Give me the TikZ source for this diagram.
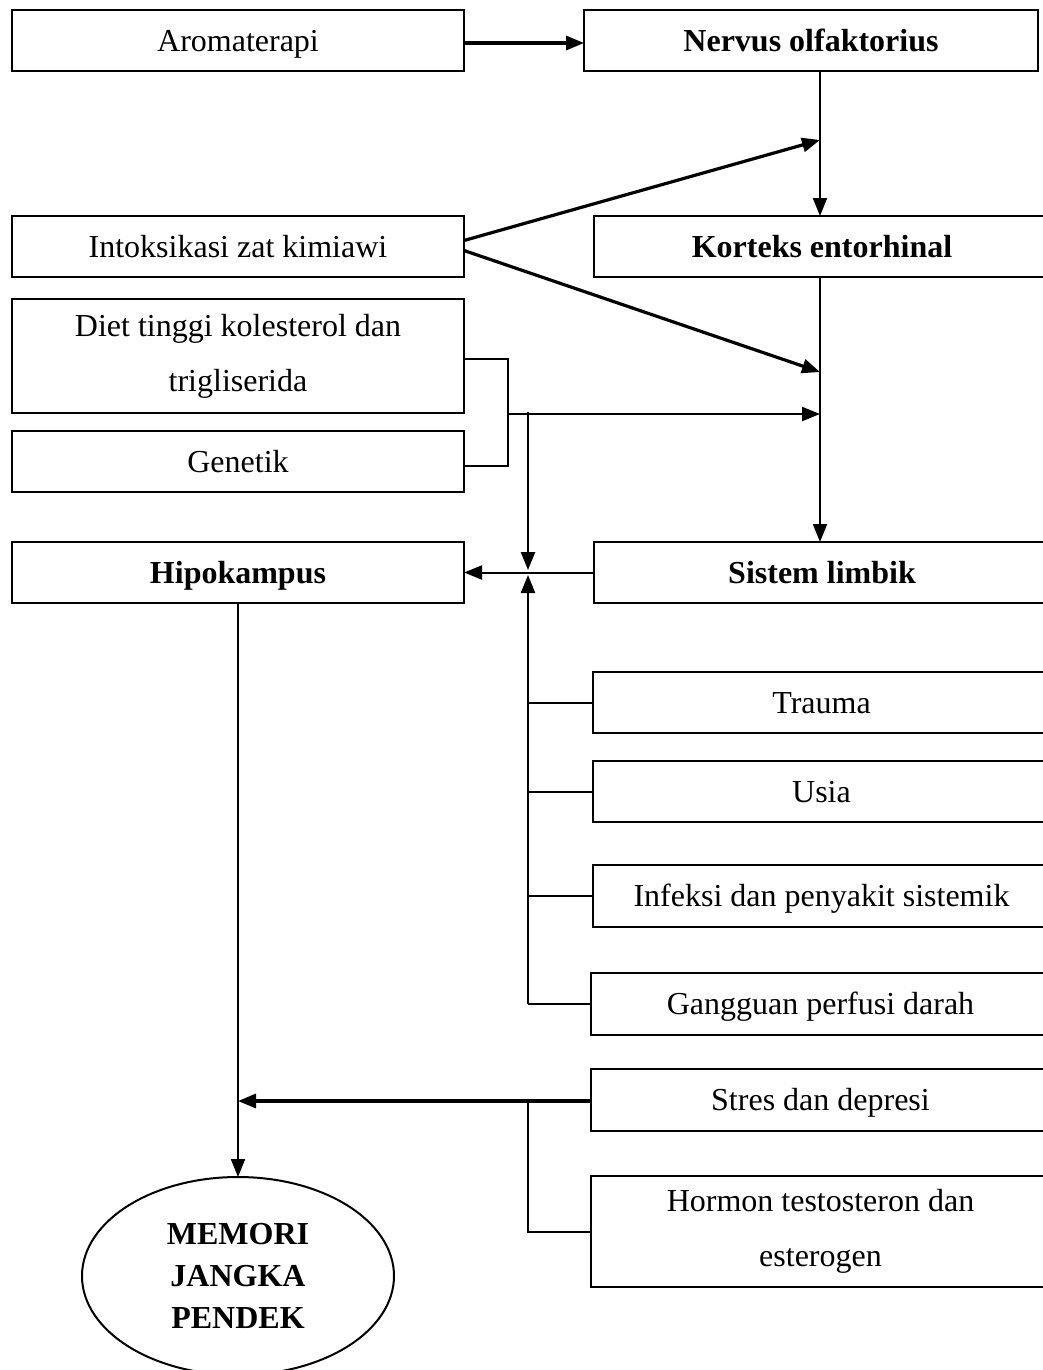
\documentclass[tikz,border=0pt]{standalone}
\usepackage{fontspec}
\setmainfont{Liberation Serif}
\usetikzlibrary{arrows.meta,calc,shapes.geometric}
\begin{document}
\begin{tikzpicture}[x=0.5pt,y=-0.5pt,
  boxbase/.style={draw,line width=1pt,inner sep=0pt,outer sep=0pt,minimum height=30.5pt,align=center,font=\fontsize{16}{27.5}\selectfont},
  box/.style={boxbase,text height=12.6pt,text depth=2pt},
  twobox/.style={boxbase},
  bbox/.style={box,font=\fontsize{16}{27.5}\selectfont\bfseries},
  conn/.style={line width=1pt},
  arr/.style={line width=1pt,-{Triangle[length=9pt,width=7pt]}},
  marr/.style={line width=1.2pt,-{Triangle[length=9pt,width=7pt]}},
  tarr/.style={line width=1.6pt,-{Triangle[length=9pt,width=7pt]}}]
\useasboundingbox (0,0) rectangle (1043,1370);
% boxes
\node[box,minimum width=226pt] (aroma) at (238,40.5) {Aromaterapi};
\node[bbox,minimum width=227pt] (nervus) at (811,40.5) {Nervus olfaktorius};
\node[box,minimum width=226pt] (intok) at (238,246.5) {Intoksikasi zat kimiawi};
\node[bbox,minimum width=228pt] (korteks) at (822,246.5) {Korteks entorhinal};
\node[twobox,minimum width=226pt,minimum height=57pt] (diet) at (238,356) {Diet tinggi kolesterol dan\\trigliserida};
\node[box,minimum width=226pt] (genetik) at (238,461.5) {Genetik};
\node[bbox,minimum width=226pt] (hipo) at (238,572.5) {Hipokampus};
\node[bbox,minimum width=228pt] (limbik) at (822,572.5) {Sistem limbik};
\node[box,minimum width=228.5pt] (trauma) at (821.5,702.5) {Trauma};
\node[box,minimum width=228.5pt] (usia) at (821.5,791.5) {Usia};
\node[box,minimum width=228.5pt,minimum height=31pt] (infeksi) at (821.5,896) {Infeksi dan penyakit sistemik};
\node[box,minimum width=229.5pt,minimum height=31pt] (gangguan) at (820.5,1004) {Gangguan perfusi darah};
\node[box,minimum width=229.5pt,minimum height=31pt] (stres) at (820.5,1100) {Stres dan depresi};
\node[twobox,minimum width=229.5pt,minimum height=55.5pt] (hormon) at (820.5,1231.5) {Hormon testosteron dan\\esterogen};
\node[draw,ellipse,line width=1pt,inner sep=0pt,outer sep=0pt,minimum width=156pt,minimum height=99pt,align=center,font=\fontsize{16}{21}\selectfont\bfseries] (memori) at (238,1276) {MEMORI\\JANGKA\\PENDEK};
% coordinates
\coordinate (kx) at (820,0);
\coordinate (p1) at (820,140);
\coordinate (p2) at (820,372);
\coordinate (p3) at (820,414);
\coordinate (bx) at (508,414);
\coordinate (vx) at (528,412);
\coordinate (hubA) at (528,570);
\coordinate (hubB) at (528,575);
\coordinate (vbot) at (528,1004);
\coordinate (hx) at (238,1101);
% connectors
\draw[tarr] ($(aroma.east)+(0,2.5)$) -- ($(nervus.west)+(0,2.5)$);
\draw[arr] (nervus.south -| kx) -- (korteks.north -| kx);
\draw[tarr] ($(intok.east)+(0,-6)$) -- (p1);
\draw[tarr] ($(intok.east)+(0,4)$) -- (p2);
\draw[arr] (korteks.south -| kx) -- (limbik.north -| kx);
\draw[conn] ($(diet.east)+(0,3)$) -- ($(diet.east)+(44,3)$) |- ($(genetik.east)+(0,4.5)$);
\draw[marr] (bx) -- (p3);
\draw[marr] (vx) -- (hubA);
\draw[arr] (limbik.west) -- (hipo.east);
\draw[marr] (vbot) -- (hubB);
\draw[conn] (trauma.west) -- (trauma.west -| vbot);
\draw[conn] (usia.west) -- (usia.west -| vbot);
\draw[conn] (infeksi.west) -- (infeksi.west -| vbot);
\draw[conn] (gangguan.west) -- (vbot);
\draw[arr] (hipo.south) -- (memori.north);
\draw[tarr] (stres.west |- hx) -- (hx);
\draw[conn] (hormon.west) -| (528,1101);
\end{tikzpicture}
\end{document}
